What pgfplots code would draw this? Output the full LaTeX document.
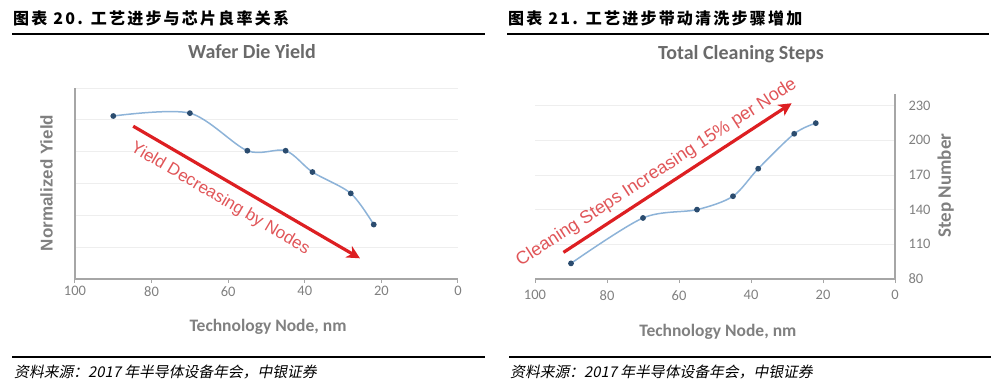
\documentclass[border=0pt]{standalone}
\usepackage{pgfplots}
\pgfplotsset{compat=1.18}
\usepackage{fontspec}
\usetikzlibrary{arrows.meta}
\setmainfont{Carlito}
\newfontfamily\arial{Liberation Sans}
\newfontfamily\cjktitle{Noto Sans CJK SC}[LetterSpace=14]
\newfontfamily\cjksrc{Noto Sans CJK SC}[FakeSlant=0.2]
\definecolor{lineblue}{HTML}{8DB3D8}
\definecolor{markblue}{HTML}{2B4C6F}
\definecolor{arrowred}{HTML}{DD1F22}
\definecolor{textred}{HTML}{E05558}
\definecolor{axgray}{HTML}{A6A6A6}
\definecolor{labgray}{HTML}{808080}
\definecolor{titgray}{HTML}{6A6A6A}
\definecolor{gridgray}{HTML}{EEEEEE}
\pgfplotsset{
  common/.style={
    scale only axis,
    anchor=south west,
    xmin=0, xmax=100, x dir=reverse,
    xtick={0,20,...,100},
    axis x line*=bottom,
    axis line style={axgray, line width=1.2pt, -},
    ymajorgrids,
    grid style={gridgray, line width=0.8pt},
    major y tick style={draw=none},
    major x tick style={axgray, line width=1pt},
    tick align=outside, major tick length=4pt,
    /pgf/number format/assume math mode=true,
    ticklabel style={font=\fontsize{14.5}{14.5}\selectfont, text=labgray},
    title style={font=\bfseries\fontsize{20}{20}\selectfont, text=titgray, anchor=center},
    xlabel style={font=\bfseries\fontsize{17.5}{17.5}\selectfont, text=labgray, anchor=center},
    clip=false,
  }
}
\begin{document}
\begin{tikzpicture}
\path[use as bounding box] (0pt,0pt) rectangle (1001pt,388pt);
% headers
\node[anchor=west, inner sep=0pt, font=\cjktitle\bfseries\fontsize{16}{16}\selectfont] at (13pt,370pt) {图表 20. 工艺进步与芯片良率关系};
\node[anchor=west, inner sep=0pt, font=\cjktitle\bfseries\fontsize{16}{16}\selectfont] at (508pt,370pt) {图表 21. 工艺进步带动清洗步骤增加};
\draw[line width=1.1pt] (12pt,354pt) -- (485pt,354pt);
\draw[line width=1.1pt] (507pt,354pt) -- (989pt,354pt);
\draw[line width=1.1pt] (12pt,31pt) -- (485pt,31pt);
\draw[line width=1.1pt] (509pt,31pt) -- (991pt,31pt);
\node[anchor=west, inner sep=0pt, font=\cjksrc\fontsize{14.8}{14.8}\selectfont] at (14pt,16pt) {资料来源：2017 年半导体设备年会，中银证券};
\node[anchor=west, inner sep=0pt, font=\cjksrc\fontsize{14.8}{14.8}\selectfont] at (510pt,16pt) {资料来源：2017 年半导体设备年会，中银证券};

% left chart
\begin{axis}[common,
  at={(75pt,109pt)}, width=383pt, height=191pt,
  ymin=0, ymax=6, ytick={1,...,6}, yticklabels={},
  axis y line*=left,
  title={Wafer Die Yield},
  title style={at={(axis description cs:0.462,1.162)}},
  xlabel={Technology Node, nm},
  xlabel style={at={(axis description cs:0.504,-0.251)}},
  ylabel={Normalized Yield},
  ylabel style={at={(axis description cs:-0.074,0.503)}, anchor=center, font=\arial\bfseries\fontsize{17}{17}\selectfont, text=labgray},
]
\addplot[lineblue, line width=1.5pt, smooth, tension=0.5, mark=*, mark size=2.1pt, mark options={fill=markblue, draw=markblue}]
  coordinates {(90,5.12) (70,5.21) (55,4.03) (45,4.03) (38,3.36) (28,2.69) (22,1.71)};
\draw[arrowred, line width=3.2pt, -{Stealth[length=13pt, width=13pt, inset=4pt]}] (axis cs:84.8,4.80) -- (axis cs:25.6,0.65);
\node[rotate=-30.5, text=textred, font=\arial\fontsize{17}{17}\selectfont] at (axis cs:62.1,2.52) {Yield Decreasing by Nodes};
\end{axis}

% right chart
\begin{axis}[common,
  at={(535pt,109pt)}, width=360pt, height=185pt,
  ymin=80, ymax=240, ytick={80,110,...,230},
  axis y line*=right,
  xticklabel style={yshift=-4pt},
  yticklabel style={xshift=6pt},
  title={Total Cleaning Steps},
  title style={at={(axis description cs:0.572,1.185)}},
  xlabel={Technology Node, nm},
  xlabel style={at={(axis description cs:0.508,-0.286)}},
  ylabel={Step Number},
  ylabel style={at={(axis description cs:1.141,0.505)}, anchor=center, font=\bfseries\fontsize{19}{19}\selectfont, text=labgray},
]
\addplot[lineblue, line width=1.5pt, smooth, tension=0.5, mark=*, mark size=2.1pt, mark options={fill=markblue, draw=markblue}]
  coordinates {(90,93.5) (70,132.8) (55,140) (45,151.6) (38,175.4) (28,205.6) (22,214.8)};
\draw[arrowred, line width=3.2pt, -{Stealth[length=13pt, width=13pt, inset=4pt]}] (axis cs:92.1,103) -- (axis cs:28.7,232);
\node[rotate=33, text=textred, font=\arial\fontsize{18}{18}\selectfont] at (axis cs:66.2,172) {Cleaning Steps Increasing 15\% per Node};
\end{axis}
\end{tikzpicture}
\end{document}
